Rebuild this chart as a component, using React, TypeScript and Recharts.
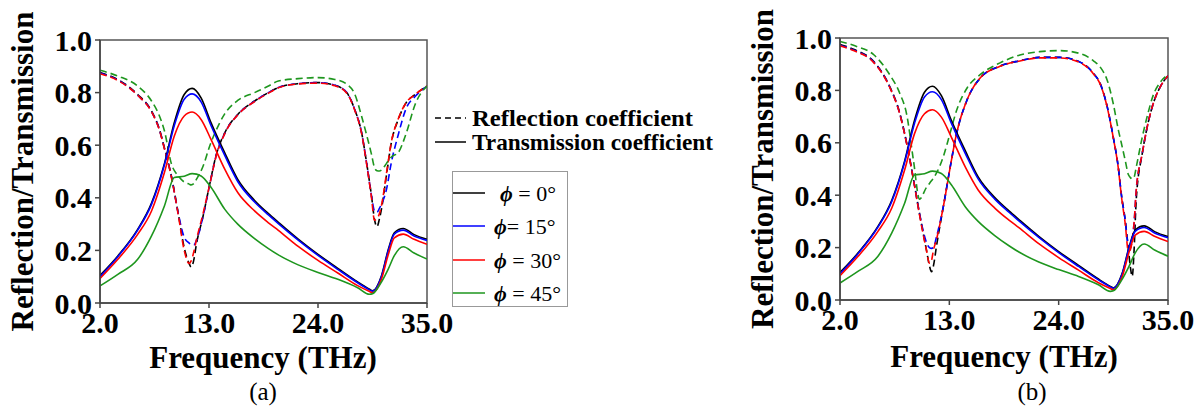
import React from 'react';
import { LineChart, Line, XAxis, YAxis, ReferenceArea } from 'recharts';

// ---------- data ----------
const freqT = [2, 3.8, 5.8, 7.2, 8.5, 9.5, 10.5, 11.3, 12.2, 13.2, 14.6, 15.9, 17.6, 19, 20, 22, 24, 26, 28, 29.2, 29.5, 30.4, 31.1, 31.7, 32.6, 33.7, 35];
const transBlack = [0.105, 0.179, 0.28, 0.38, 0.53, 0.686, 0.793, 0.816, 0.78, 0.686, 0.57, 0.47, 0.39, 0.34, 0.307, 0.243, 0.185, 0.132, 0.08, 0.052, 0.046, 0.103, 0.204, 0.267, 0.283, 0.26, 0.242];
const transBlue = [0.1, 0.176, 0.277, 0.375, 0.525, 0.675, 0.775, 0.795, 0.765, 0.675, 0.56, 0.462, 0.384, 0.335, 0.302, 0.239, 0.181, 0.128, 0.077, 0.05, 0.045, 0.1, 0.2, 0.262, 0.277, 0.255, 0.238];
const transRed = [0.093, 0.166, 0.261, 0.35, 0.496, 0.635, 0.711, 0.726, 0.698, 0.622, 0.508, 0.42, 0.35, 0.305, 0.276, 0.215, 0.162, 0.114, 0.066, 0.044, 0.039, 0.09, 0.185, 0.248, 0.262, 0.242, 0.223];
const transGreen = [0.065, 0.109, 0.166, 0.255, 0.369, 0.477, 0.482, 0.492, 0.483, 0.44, 0.356, 0.3, 0.245, 0.207, 0.183, 0.145, 0.116, 0.09, 0.058, 0.033, 0.035, 0.08, 0.13, 0.18, 0.214, 0.19, 0.167];

const freqRa = [2, 3.8, 5.8, 7.2, 8.0, 8.5, 9.2, 9.9, 10.5, 11.0, 11.2, 11.5, 11.7, 12.4, 13.1, 13.7, 14.6, 15.9, 17.6, 19, 20, 22, 24, 25.7, 26.9, 27.7, 28.4, 28.9, 29.4, 29.7, 29.95, 30.2, 30.4, 30.9, 31.4, 32.1, 32.9, 33.8, 35];
const reflBlackA = [0.876, 0.85, 0.793, 0.73, 0.66, 0.59, 0.483, 0.34, 0.21, 0.15, 0.137, 0.17, 0.217, 0.33, 0.457, 0.559, 0.648, 0.717, 0.768, 0.8, 0.819, 0.834, 0.838, 0.828, 0.8, 0.736, 0.648, 0.534, 0.407, 0.318, 0.29, 0.32, 0.356, 0.483, 0.61, 0.698, 0.762, 0.793, 0.825];
const reflBlueA = [0.874, 0.848, 0.79, 0.728, 0.658, 0.588, 0.482, 0.34, 0.25, 0.228, 0.222, 0.222, 0.235, 0.33, 0.455, 0.557, 0.646, 0.716, 0.767, 0.8, 0.819, 0.834, 0.838, 0.828, 0.8, 0.736, 0.648, 0.534, 0.407, 0.35, 0.345, 0.36, 0.375, 0.43, 0.534, 0.64, 0.74, 0.785, 0.825];
const reflRedA = [0.872, 0.846, 0.79, 0.727, 0.657, 0.587, 0.48, 0.335, 0.2, 0.15, 0.16, 0.2, 0.235, 0.34, 0.455, 0.555, 0.645, 0.715, 0.766, 0.798, 0.818, 0.833, 0.836, 0.826, 0.798, 0.734, 0.645, 0.53, 0.4, 0.315, 0.32, 0.34, 0.37, 0.49, 0.612, 0.7, 0.762, 0.793, 0.825];
const reflGreenA = [0.885, 0.863, 0.825, 0.768, 0.711, 0.655, 0.53, 0.483, 0.46, 0.452, 0.449, 0.455, 0.468, 0.52, 0.6, 0.655, 0.72, 0.77, 0.8, 0.825, 0.844, 0.853, 0.857, 0.85, 0.832, 0.795, 0.71, 0.64, 0.565, 0.515, 0.503, 0.502, 0.505, 0.53, 0.555, 0.572, 0.645, 0.755, 0.825];

const freqRb = [2, 3.5, 5.4, 7.0, 8.0, 8.7, 9.4, 10.0, 10.7, 11.0, 11.2, 11.4, 11.7, 12.4, 13.1, 13.7, 14.8, 16.1, 18.1, 20.1, 22.1, 24.1, 26.2, 27.5, 28.2, 28.9, 29.5, 30.0, 30.3, 30.7, 31.0, 31.2, 31.4, 31.6, 31.8, 32.4, 32.9, 33.5, 34.2, 35];
const reflBlackB = [0.975, 0.955, 0.91, 0.815, 0.715, 0.6, 0.459, 0.33, 0.19, 0.13, 0.108, 0.13, 0.204, 0.357, 0.51, 0.63, 0.765, 0.847, 0.893, 0.913, 0.926, 0.926, 0.907, 0.865, 0.824, 0.735, 0.62, 0.506, 0.405, 0.303, 0.2, 0.13, 0.09, 0.2, 0.38, 0.557, 0.659, 0.748, 0.812, 0.856];
const reflBlueB = [0.972, 0.952, 0.908, 0.813, 0.713, 0.6, 0.459, 0.33, 0.22, 0.2, 0.197, 0.2, 0.24, 0.357, 0.51, 0.63, 0.765, 0.847, 0.893, 0.913, 0.926, 0.926, 0.907, 0.865, 0.824, 0.735, 0.62, 0.506, 0.405, 0.303, 0.21, 0.2, 0.23, 0.3, 0.417, 0.557, 0.659, 0.748, 0.812, 0.856];
const reflRedB = [0.97, 0.95, 0.906, 0.812, 0.712, 0.598, 0.457, 0.325, 0.19, 0.14, 0.15, 0.19, 0.23, 0.357, 0.51, 0.63, 0.765, 0.847, 0.892, 0.912, 0.924, 0.924, 0.905, 0.863, 0.822, 0.733, 0.618, 0.503, 0.4, 0.29, 0.19, 0.19, 0.23, 0.3, 0.417, 0.557, 0.659, 0.748, 0.812, 0.856];
const reflGreenB = [0.987, 0.97, 0.936, 0.86, 0.79, 0.71, 0.53, 0.385, 0.43, 0.445, 0.455, 0.465, 0.484, 0.548, 0.64, 0.72, 0.81, 0.86, 0.905, 0.935, 0.948, 0.952, 0.94, 0.913, 0.888, 0.837, 0.748, 0.65, 0.6, 0.532, 0.48, 0.468, 0.462, 0.47, 0.506, 0.62, 0.7, 0.78, 0.83, 0.86];

const xTicks = [2, 13, 24, 35];
const yTicks = [0, 0.2, 0.4, 0.6, 0.8, 1.0];
const seriesColors = ['#000000', '#0000ff', '#ff0000', '#1e961e'];
const phiLabels = ['= 0°', '= 15°', '= 30°', '= 45°'];
const xTitle = 'Frequency (THz)';
const yTitle = 'Reflection/Transmission';
const legendRefl = 'Reflection coefficient';
const legendTrans = 'Transmission coefficient';

const FONT = '"Liberation Serif", "Times New Roman", serif';

const toPts = (xs: number[], ys: number[]) => xs.map((f, i) => ({ f, v: ys[i] }));

const transSets = [transBlack, transBlue, transRed, transGreen];

type PanelProps = {
  left: number;
  top: number;
  width: number;
  marginTop: number;
  marginRight: number;
  xAxisHeight: number;
  freqR: number[];
  refl: number[][];
};

function Panel({ left, top, width, marginTop, marginRight, xAxisHeight, freqR, refl }: PanelProps) {
  const tickStyle = { fontFamily: FONT, fontSize: 30, fontWeight: 700, fill: '#000' };
  return (
    <div style={{ position: 'absolute', left, top }}>
      <LineChart
        width={width}
        height={412}
        margin={{ top: marginTop, right: marginRight, left: 0, bottom: 0 }}
      >
        <XAxis
          dataKey="f"
          type="number"
          domain={[2, 35]}
          ticks={xTicks}
          allowDataOverflow
          height={xAxisHeight}
          tick={tickStyle}
          tickFormatter={(v: number) => v.toFixed(1)}
          tickSize={5}
          tickMargin={4}
          axisLine={{ stroke: '#444', strokeWidth: 1.5 }}
          tickLine={{ stroke: '#444', strokeWidth: 1.5 }}
          interval={0}
        />
        <YAxis
          dataKey="v"
          type="number"
          domain={[0, 1]}
          ticks={yTicks}
          width={100}
          tick={tickStyle}
          tickFormatter={(v: number) => v.toFixed(1)}
          tickSize={5}
          tickMargin={3}
          axisLine={{ stroke: '#444', strokeWidth: 1.5 }}
          tickLine={{ stroke: '#444', strokeWidth: 1.5 }}
          interval={0}
        />
        <ReferenceArea x1={2} x2={35} y1={0} y2={1} fill="none" stroke="#555" strokeWidth={1.5} />
        {refl.map((ys, i) => (
          <Line
            key={'r' + i}
            data={toPts(freqR, ys)}
            dataKey="v"
            type="monotone"
            stroke={seriesColors[i]}
            strokeWidth={1.6}
            strokeDasharray="7 4"
            dot={false}
            activeDot={false}
            isAnimationActive={false}
          />
        ))}
        {transSets.map((ys, i) => (
          <Line
            key={'t' + i}
            data={toPts(freqT, ys)}
            dataKey="v"
            type="monotone"
            stroke={seriesColors[i]}
            strokeWidth={1.6}
            dot={false}
            activeDot={false}
            isAnimationActive={false}
          />
        ))}
      </LineChart>
    </div>
  );
}

function Overlay() {
  const bold = { fontFamily: FONT, fontWeight: 700, fill: '#000' } as const;
  const rows = [193, 226, 260, 293];
  return (
    <svg
      width={1204}
      height={412}
      style={{ position: 'absolute', left: 0, top: 0, pointerEvents: 'none' }}
    >
      {/* axis titles panel a */}
      <text x={263} y={368} textAnchor="middle" fontSize={31} {...bold}>{xTitle}</text>
      <text x={33} y={171.5} textAnchor="middle" fontSize={31} transform="rotate(-90 33 171.5)" {...bold}>{yTitle}</text>
      {/* axis titles panel b */}
      <text x={1004} y={367} textAnchor="middle" fontSize={31} {...bold}>{xTitle}</text>
      <text x={773} y={169} textAnchor="middle" fontSize={31} transform="rotate(-90 773 169)" {...bold}>{yTitle}</text>
      {/* panel labels */}
      <text x={263} y={400} textAnchor="middle" fontSize={25} fontFamily={FONT} fill="#000">(a)</text>
      <text x={1032} y={400} textAnchor="middle" fontSize={25} fontFamily={FONT} fill="#000">(b)</text>
      {/* line style legend */}
      <line x1={435} x2={466} y1={118} y2={118} stroke="#000" strokeWidth={1.5} strokeDasharray="6 4" />
      <text x={472} y={126} fontSize={24} textLength={221} lengthAdjust="spacingAndGlyphs" {...bold}>{legendRefl}</text>
      <line x1={435} x2={466} y1={142} y2={142} stroke="#000" strokeWidth={1.5} />
      <text x={472} y={150} fontSize={24} textLength={241} lengthAdjust="spacingAndGlyphs" {...bold}>{legendTrans}</text>
      {/* angle legend */}
      <rect x={452.5} y={171.5} width={115} height={135} fill="#fff" stroke="#999" strokeWidth={1} />
      {rows.map((y, i) => (
        <g key={i}>
          <line x1={453} x2={485} y1={y} y2={y} stroke={seriesColors[i]} strokeWidth={1.5} />
          <text x={i === 0 ? 500 : 494} y={y + 8} fontSize={22} fontFamily={FONT} fill="#000">
            <tspan fontStyle="italic" fontWeight={700}>ϕ</tspan>
            <tspan>{(i === 1 ? '' : ' ') + phiLabels[i]}</tspan>
          </text>
        </g>
      ))}
    </svg>
  );
}

export default function App() {
  return (
    <div style={{ position: 'absolute', left: 0, top: 0, width: 1204, height: 412, background: '#fff', fontFamily: FONT }}>
      <Panel
        left={0}
        top={0}
        width={470}
        marginTop={40}
        marginRight={43}
        xAxisHeight={109}
        freqR={freqRa}
        refl={[reflBlackA, reflBlueA, reflRedA, reflGreenA]}
      />
      <Panel
        left={740}
        top={0}
        width={464}
        marginTop={38}
        marginRight={36}
        xAxisHeight={112}
        freqR={freqRb}
        refl={[reflBlackB, reflBlueB, reflRedB, reflGreenB]}
      />
      <Overlay />
    </div>
  );
}
